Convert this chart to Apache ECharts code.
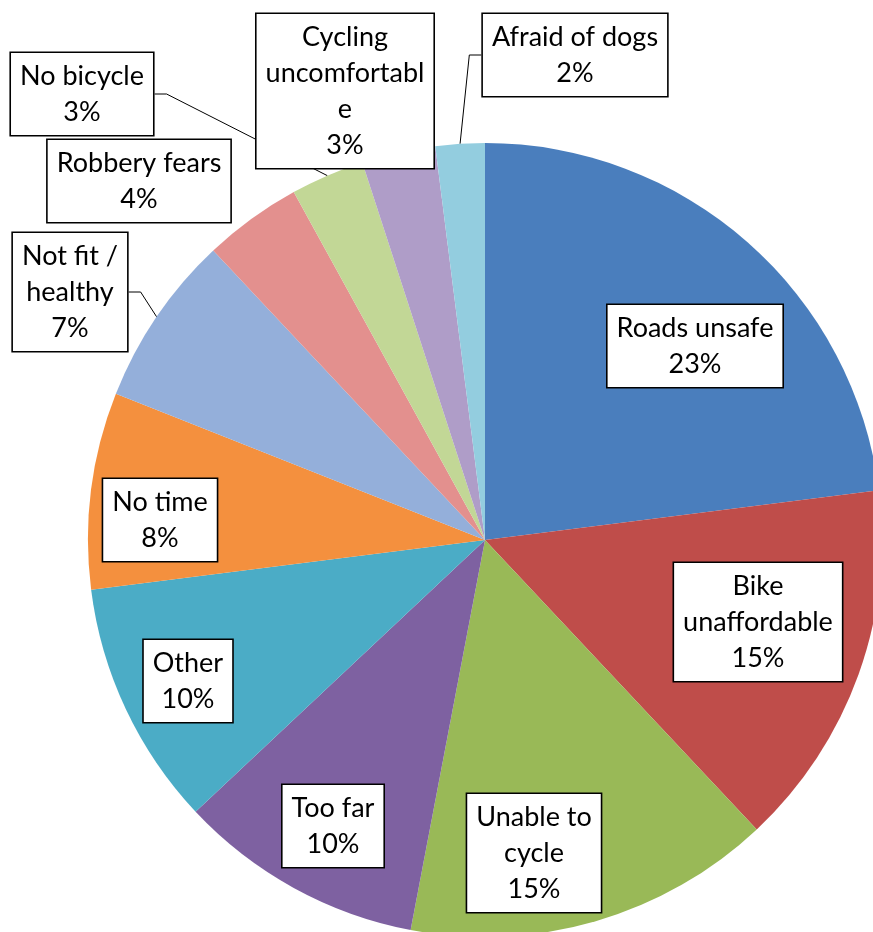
<!DOCTYPE html>
<html>
<head>
<meta charset="utf-8">
<script src="https://cdn.jsdelivr.net/npm/echarts@6/dist/echarts.min.js"></script>
<style>
  html, body { margin: 0; padding: 0; background: #fff; }
  #chart { width: 873px; height: 932px; }
</style>
</head>
<body>
<div id="chart"></div>
<script>
// Reasons given for not cycling (share of respondents, %)
const categories = [
  'Roads unsafe',
  'Bike\nunaffordable',
  'Unable to\ncycle',
  'Too far',
  'Other',
  'No time',
  'Not fit /\nhealthy',
  'Robbery fears',
  'No bicycle',
  'Cycling\nuncomfortabl\ne',
  'Afraid of dogs'
];
const shares = [23, 15, 15, 10, 10, 8, 7, 4, 3, 3, 2];

const sliceColors = [
  '#4A7EBD', '#BF4D4A', '#99B957', '#7E61A1', '#4BACC6', '#F4903E',
  '#94AFDA', '#E3908E', '#C2D796', '#AF9DC8', '#93CDDF'
];

// Label box centres, as offsets from the pie centre (px)
const labelOffsets = [
  [210, -194], [273, 82], [49, 313], [-152, 286], [-297, 141], [-325, -20],
  [-415, -248], [-346, -359], [-403, -446], [-140, -449], [90, -485]
];
// Which labels are joined to their slice by a leader line
const showLeader = [false, false, false, false, false, false, true, false, true, false, true];

const pieCenter = [485, 540];
const pieRadius = 397;

const chart = echarts.init(document.getElementById('chart'), null, { renderer: 'canvas' });

chart.setOption({
  animation: false,
  backgroundColor: '#ffffff',
  series: [{
    type: 'pie',
    center: pieCenter,
    radius: pieRadius,
    startAngle: 90,
    clockwise: true,
    avoidLabelOverlap: false,
    itemStyle: { borderWidth: 0 },
    label: {
      show: true,
      position: 'outside',
      formatter: p => p.name + '\n' + Math.round(p.percent) + '%',
      fontFamily: 'Lato',
      fontSize: 27,
      lineHeight: 36,
      color: '#000',
      align: 'center',
      backgroundColor: '#ffffff',
      borderColor: '#000000',
      borderWidth: 1.6,
      padding: [5, 9, 5, 9]
    },
    labelLine: {
      show: true,
      length: 10,
      length2: 12,
      lineStyle: { color: '#000', width: 1 }
    },
    labelLayout: params => {
      const off = labelOffsets[params.dataIndex];
      return {
        x: pieCenter[0] + off[0],
        y: pieCenter[1] + off[1],
        align: 'center',
        verticalAlign: 'middle'
      };
    },
    emphasis: { disabled: true },
    data: categories.map((name, i) => ({
      name: name,
      value: shares[i],
      itemStyle: { color: sliceColors[i] },
      labelLine: { show: showLeader[i] }
    }))
  }]
});
</script>
</body>
</html>
